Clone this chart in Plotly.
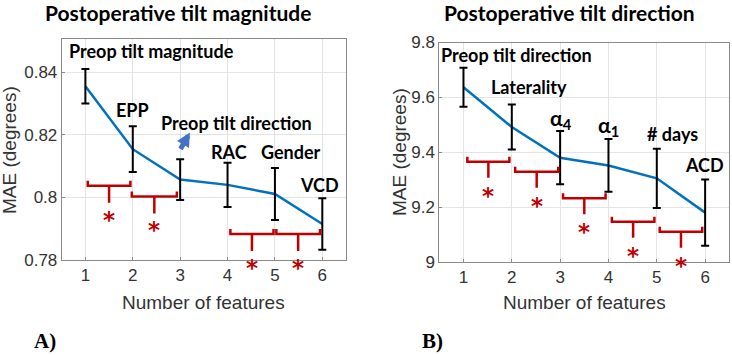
import plotly.graph_objects as go

# ---------------- data ----------------
features = [1, 2, 3, 4, 5, 6]

mae_mag = [0.8355, 0.8154, 0.8057, 0.8040, 0.8011, 0.7915]
err_mag = [0.0055, 0.0073, 0.0065, 0.0071, 0.0083, 0.0082]
labels_mag = ["Preop tilt magnitude", "EPP", "Preop tilt direction", "RAC", "Gender", "VCD"]

mae_dir = [9.637, 9.492, 9.380, 9.352, 9.305, 9.180]
err_dir = [0.071, 0.082, 0.097, 0.096, 0.108, 0.121]
labels_dir = ["Preop tilt direction", "Laterality", "α<sub>4</sub>", "α<sub>1</sub>", "# days", "ACD"]

# significance brackets (start, end, level)
sig_mag_x0 = [1.05, 1.98, 4.06, 5.03]
sig_mag_x1 = [1.95, 2.93, 4.97, 5.95]
sig_mag_y = [0.8037, 0.8003, 0.7883, 0.7883]

sig_dir_x0 = [1.08, 2.07, 3.06, 4.07, 5.06]
sig_dir_x1 = [1.95, 2.96, 3.94, 4.95, 5.94]
sig_dir_y = [9.365, 9.329, 9.232, 9.147, 9.110]

x_ticks = [1, 2, 3, 4, 5, 6]
y_ticks_mag = [0.78, 0.80, 0.82, 0.84]
y_ticktext_mag = ["0.78", "0.8", "0.82", "0.84"]
y_ticks_dir = [9.0, 9.2, 9.4, 9.6, 9.8]
y_ticktext_dir = ["9", "9.2", "9.4", "9.6", "9.8"]

# ---------------- layout geometry ----------------
W, H = 732, 355
# plot boxes in pixels (left, right, top, bottom)
boxA = (61.7, 346.0, 39.3, 260.0)
boxB = (439.3, 729.3, 42.5, 262.0)
rangeA = [0.78, 0.8505]
rangeB = [9.0, 9.8]
xrange_ = [0.5, 6.5]

def px2dataA(p):
    return p * (rangeA[1] - rangeA[0]) / (boxA[3] - boxA[2])

def px2dataB(p):
    return p * (rangeB[1] - rangeB[0]) / (boxB[3] - boxB[2])

# label placement (data coords)
label_pos_mag = [(2.40, 0.8468), (1.994, 0.8280), (4.18, 0.8238), (4.036, 0.8145), (5.348, 0.8145), (5.951, 0.8040)]
label_pos_dir = [(2.103, 9.754), (2.355, 9.636), (3.019, 9.521), (4.01, 9.497), (5.318, 9.466), (5.992, 9.353)]

BLUE = "#0072BD"
RED = "#C00000"
TXT = "#333333"
LBLFONT = "Lato"

fig = go.Figure()

def add_panel(mae, err, xa, ya):
    fig.add_trace(go.Scatter(x=features, y=mae, mode="lines",
                             line=dict(color=BLUE, width=2.5),
                             xaxis=xa, yaxis=ya, showlegend=False, hoverinfo="skip"))
    fig.add_trace(go.Scatter(x=features, y=mae, mode="markers",
                             marker=dict(size=0.1, color="rgba(0,0,0,0)"),
                             error_y=dict(type="data", array=err, visible=True,
                                          color="black", thickness=2, width=4),
                             xaxis=xa, yaxis=ya, showlegend=False, hoverinfo="skip"))

add_panel(mae_mag, err_mag, "x", "y")
add_panel(mae_dir, err_dir, "x2", "y2")

annotations = []

def add_brackets(x0s, x1s, ys, conv, xa, ya, rise_px, stem_px, star_px):
    bx, by = [], []
    for x0, x1, yv in zip(x0s, x1s, ys):
        xc = (x0 + x1) / 2
        r = conv(rise_px)
        s = conv(stem_px)
        bx += [x0, x0, x1, x1, None, xc, xc, None]
        by += [yv + r, yv, yv, yv + r, None, yv, yv - s, None]
        # star anchored on the bracket level, shifted down in pixels
        annotations.append(dict(x=xc, y=yv, xref=xa, yref=ya,
                                xanchor="center", yanchor="middle",
                                text="<b>*</b>", showarrow=False, yshift=-(star_px + 6),
                                font=dict(family="DejaVu Sans", size=23, color=RED)))
    fig.add_trace(go.Scatter(x=bx, y=by, mode="lines",
                             line=dict(color=RED, width=2.5),
                             xaxis=xa, yaxis=ya, showlegend=False, hoverinfo="skip",
                             cliponaxis=False))

add_brackets(sig_mag_x0, sig_mag_x1, sig_mag_y, px2dataA, "x", "y", 5, 17, 28)
add_brackets(sig_dir_x0, sig_dir_x1, sig_dir_y, px2dataB, "x2", "y2", 5, 16, 28)

for txt, (lx, ly) in zip(labels_mag, label_pos_mag):
    annotations.append(dict(x=lx, y=ly, xref="x", yref="y", text="<b>%s</b>" % txt,
                            xanchor="center", yanchor="middle",
                            showarrow=False, font=dict(family=LBLFONT, size=18, color="black")))
for txt, (lx, ly) in zip(labels_dir, label_pos_dir):
    sz = 21 if "α" in txt else 18
    annotations.append(dict(x=lx, y=ly, xref="x2", yref="y2", text="<b>%s</b>" % txt,
                            xanchor="center", yanchor="middle",
                            showarrow=False, font=dict(family=LBLFONT, size=sz, color="black")))

# arrow in panel A
annotations.append(dict(x=3.205, y=0.8207, ax=2.99, ay=0.8150, xref="x", yref="y",
                        axref="x", ayref="y", text="", showarrow=True, arrowhead=2,
                        arrowsize=0.55, arrowwidth=5, arrowcolor="#4472C4"))

def paper(px, py):
    return px / W, 1 - py / H

# titles
for txt, cx in [("Postoperative tilt magnitude", 177.5), ("Postoperative tilt direction", 569)]:
    x, y = paper(cx, 13)
    annotations.append(dict(x=x, y=y, xref="paper", yref="paper", text="<b>%s</b>" % txt,
                            xanchor="center", yanchor="middle",
                            showarrow=False, font=dict(family=LBLFONT, size=21, color="black")))
# axis titles
for cx in [204, 584.5]:
    x, y = paper(cx, 302)
    annotations.append(dict(x=x, y=y, xref="paper", yref="paper", text="Number of features",
                            xanchor="center", yanchor="middle",
                            showarrow=False, font=dict(family="Liberation Sans", size=19, color=TXT)))
for cx, cy in [(9, 150), (399, 152)]:
    x, y = paper(cx, cy)
    annotations.append(dict(x=x, y=y, xref="paper", yref="paper", text="MAE (degrees)",
                            xanchor="center", yanchor="middle",
                            textangle=-90, showarrow=False,
                            font=dict(family="Liberation Sans", size=19, color=TXT)))
# panel letters
for txt, cx in [("A)", 45), ("B)", 432)]:
    x, y = paper(cx, 341)
    annotations.append(dict(x=x, y=y, xref="paper", yref="paper", text="<b>%s</b>" % txt,
                            xanchor="center", yanchor="middle",
                            showarrow=False, font=dict(family="Liberation Serif", size=21, color="black")))

def xdom(box):
    return [box[0] / W, box[1] / W]

def ydom(box):
    return [1 - box[3] / H, 1 - box[2] / H]

axis_common = dict(showline=True, mirror=True, linecolor="#8a8a8a", linewidth=1,
                   showgrid=True, gridcolor="#e4e4e4", gridwidth=1, zeroline=False,
                   ticks="inside", ticklen=3, tickcolor="#8a8a8a",
                   tickfont=dict(family="Liberation Sans", size=17, color=TXT))

fig.update_layout(
    width=W, height=H, autosize=False,
    margin=dict(l=0, r=0, t=0, b=0, autoexpand=False),
    paper_bgcolor="white", plot_bgcolor="white",
    xaxis=dict(domain=xdom(boxA), range=xrange_, tickvals=x_ticks, anchor="y", **axis_common),
    yaxis=dict(domain=ydom(boxA), range=rangeA, tickvals=y_ticks_mag, ticktext=y_ticktext_mag,
               anchor="x", **axis_common),
    xaxis2=dict(domain=xdom(boxB), range=xrange_, tickvals=x_ticks, anchor="y2", **axis_common),
    yaxis2=dict(domain=ydom(boxB), range=rangeB, tickvals=y_ticks_dir, ticktext=y_ticktext_dir,
                anchor="x2", **axis_common),
    annotations=annotations,
    showlegend=False,
)

fig.write_html("out.html",
               config={"displayModeBar": False},
               post_script="document.body.style.margin='0';document.body.style.overflow='hidden';")
